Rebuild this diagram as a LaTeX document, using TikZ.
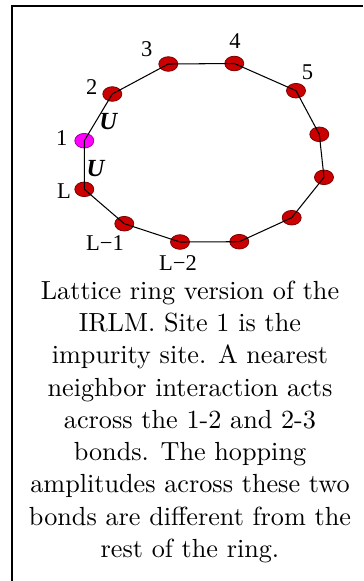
\documentclass[tikz,border=0pt]{standalone}
\usepackage{fontspec}
\usepackage{tkz-euclide}
\newfontfamily\figfont{Liberation Serif}
\definecolor{SiteClr}{RGB}{204,0,0}
\definecolor{ImpClr}{RGB}{255,0,255}

\begin{document}
\begin{tikzpicture}[x=.3817pt,y=.3817pt,
  SiteLbl/.style={font=\figfont\fontsize{8.6}{10}\selectfont,inner sep=0pt},
  BondLbl/.style={font=\figfont\bfseries\itshape\fontsize{9.4}{11}\selectfont,inner sep=0pt}]
\tkzSetUpLine[line width=0.4pt,color=black]

\useasboundingbox (0,0) rectangle (363,-581);

% frame
\draw[line width=0.5pt] (12,-581) -- (12,-6) -- (363,-6);

% sites of the ring
\tkzDefPoint(84.3,-140.7){S1}
\tkzDefPoint(112.3,-94){S2}
\tkzDefPoint(168.3,-64){S3}
\tkzDefPoint(234.3,-63.5){S4}
\tkzDefPoint(296,-90.7){S5}
\tkzDefPoint(319.3,-134.3){S6}
\tkzDefPoint(324,-177.3){S7}
\tkzDefPoint(291.7,-217.7){S8}
\tkzDefPoint(239.3,-241.7){S9}
\tkzDefPoint(180,-242){S10}
\tkzDefPoint(124.3,-223.7){S11}
\tkzDefPoint(84.3,-189.3){S12}

\draw[fill=ImpClr,draw=ImpClr!60!black,line width=0.3pt] (S1) ellipse (9.5 and 7.3);
\draw[fill=SiteClr,draw=SiteClr!60!black,line width=0.3pt] (S2) ellipse (9.5 and 7.3);
\draw[fill=SiteClr,draw=SiteClr!60!black,line width=0.3pt] (S3) ellipse (9.5 and 7.3);
\draw[fill=SiteClr,draw=SiteClr!60!black,line width=0.3pt] (S4) ellipse (9.5 and 7.3);
\draw[fill=SiteClr,draw=SiteClr!60!black,line width=0.3pt] (S5) ellipse (9.5 and 7.3);
\draw[fill=SiteClr,draw=SiteClr!60!black,line width=0.3pt] (S6) ellipse (9.5 and 7.3);
\draw[fill=SiteClr,draw=SiteClr!60!black,line width=0.3pt] (S7) ellipse (9.5 and 7.3);
\draw[fill=SiteClr,draw=SiteClr!60!black,line width=0.3pt] (S8) ellipse (9.5 and 7.3);
\draw[fill=SiteClr,draw=SiteClr!60!black,line width=0.3pt] (S9) ellipse (9.5 and 7.3);
\draw[fill=SiteClr,draw=SiteClr!60!black,line width=0.3pt] (S10) ellipse (9.5 and 7.3);
\draw[fill=SiteClr,draw=SiteClr!60!black,line width=0.3pt] (S11) ellipse (9.5 and 7.3);
\draw[fill=SiteClr,draw=SiteClr!60!black,line width=0.3pt] (S12) ellipse (9.5 and 7.3);

\tkzDrawPolygon[line width=0.4pt,color=black](S1,S2,S3,S4,S5,S6,S7,S8,S9,S10,S11,S12)

\node[SiteLbl] (l1) at (61.7,-138.3) {1};
\node[SiteLbl] (l2) at (91.7,-86.7) {2};
\node[SiteLbl] (l3) at (146.7,-49) {3};
\node[SiteLbl] (l4) at (235,-41) {4};
\node[SiteLbl] (l5) at (307.5,-72.5) {5};
\node[SiteLbl] (lL) at (64,-190.7) {L};
\node[SiteLbl] (lL1) at (105,-242.7) {L−1};
\node[SiteLbl] (lL2) at (178,-263) {L−2};

\node[BondLbl] (u12) at (108.3,-121.7) {U};
\node[BondLbl] (u1L) at (95.5,-168.3) {U};

\node[anchor=north,inner sep=0pt,align=center,
      font=\fontsize{10}{12.3}\selectfont] (cap) at (190,-280.5)
  {Lattice ring version of the\\ IRLM. Site 1 is the\\ impurity site. A nearest\\
   neighbor interaction acts\\ across the 1-2 and 2-3\\ bonds. The hopping\\
   amplitudes across these two\\ bonds are different from the\\ rest of the ring.};

\end{tikzpicture}
\end{document}
